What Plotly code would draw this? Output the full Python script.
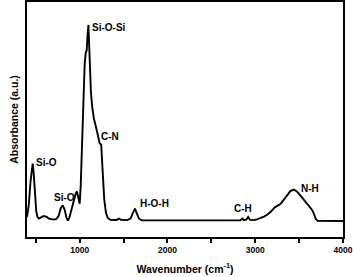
import plotly.graph_objects as go

wavenumber = [400, 420, 440, 455, 465, 475, 490, 505, 520, 535, 560, 590, 620, 650, 690, 730,
              760, 785, 808, 830, 850, 866, 885, 910, 935, 955, 969, 985, 1000, 1012, 1025,
              1040, 1057, 1070, 1080, 1090, 1100, 1108, 1118, 1128, 1143, 1163, 1188, 1213,
              1228, 1245, 1255, 1265, 1280, 1300, 1320, 1350, 1420, 1450, 1470, 1540, 1580,
              1605, 1630, 1650, 1675, 1710, 1900, 2100, 2300, 2500, 2700, 2830, 2855, 2870,
              2900, 2920, 2940, 2980, 3020, 3060, 3100, 3140, 3180, 3220, 3260, 3290, 3320,
              3360, 3400, 3440, 3470, 3500, 3540, 3580, 3620, 3650, 3670, 3690, 3710, 3800, 4000]
absorbance = [0.02, 0.08, 0.20, 0.27, 0.293, 0.25, 0.12, 0.05, 0.02, 0.012, 0.018, 0.025, 0.022,
              0.012, 0.008, 0.008, 0.025, 0.065, 0.08, 0.055, 0.015, 0.002, 0.02, 0.065, 0.11,
              0.14, 0.15, 0.12, 0.088, 0.18, 0.40, 0.65, 0.80, 0.86, 0.87, 0.95, 1.0, 0.90,
              0.75, 0.66, 0.58, 0.52, 0.475, 0.43, 0.395, 0.39, 0.32, 0.22, 0.11, 0.04, 0.015,
              0.006, 0.005, 0.012, 0.006, 0.004, 0.012, 0.04, 0.063, 0.04, 0.012, 0.003, 0.003,
              0.002, 0.004, 0.002, 0.003, 0.003, 0.012, 0.004, 0.008, 0.02, 0.005, 0.004, 0.008,
              0.014, 0.022, 0.033, 0.048, 0.068, 0.08, 0.088, 0.105, 0.13, 0.152, 0.16, 0.152,
              0.138, 0.115, 0.092, 0.07, 0.055, 0.035, 0.01, 0.001, 0.0, 0.0]

peak_labels = ["Si-O", "Si-O", "Si-O-Si", "C-N", "H-O-H", "C-H", "N-H"]
label_x = [480, 685, 1120, 1220, 1664, 2735, 3498]
label_y = [0.30, 0.122, 0.985, 0.43, 0.087, 0.061, 0.168]

tick_vals = [1000, 2000, 3000, 4000]
tick_text = ["<b>%d</b>" % v for v in tick_vals]

FONT = "Liberation Sans, Arial, sans-serif"

fig = go.Figure()
fig.add_trace(go.Scatter(x=wavenumber, y=absorbance, mode="lines",
                         line=dict(color="black", width=1.9), showlegend=False))

for t, x, y in zip(peak_labels, label_x, label_y):
    fig.add_annotation(x=x, y=y, text="<b>%s</b>" % t, showarrow=False,
                       xanchor="left", yanchor="middle",
                       font=dict(family=FONT, size=10, color="black"))

fig.update_layout(
    width=353, height=277,
    margin=dict(l=27, r=10, t=2, b=40),
    paper_bgcolor="white", plot_bgcolor="white",
    font=dict(family=FONT, color="black", size=10),
)
fig.update_xaxes(range=[400, 4000], tickvals=tick_vals, ticktext=tick_text,
                 ticks="outside", ticklen=4, tickwidth=1.5, tickcolor="black",
                 minor=dict(ticks="outside", tick0=500, dtick=500, ticklen=4, tickwidth=1.5, tickcolor="black"),
                 showline=True, linewidth=2, linecolor="black", mirror=True,
                 showgrid=False, zeroline=False, automargin=False,
                 tickfont=dict(family=FONT, size=8.5, color="black"),
                 title=dict(text="<b>Wavenumber (cm<sup>-1</sup>)</b>",
                            font=dict(family=FONT, size=10.5, color="black"), standoff=11))
fig.update_yaxes(range=[-0.082, 1.117], showticklabels=False, ticks="",
                 showline=True, linewidth=2, linecolor="black", mirror=True,
                 showgrid=False, zeroline=False, automargin=False,
                 title=dict(text="<b>Absorbance (a.u.)</b>",
                            font=dict(family=FONT, size=10.5, color="black"), standoff=4))

fig.write_html("out.html", config={"displayModeBar": False},
               post_script="document.body.style.margin='0';")
